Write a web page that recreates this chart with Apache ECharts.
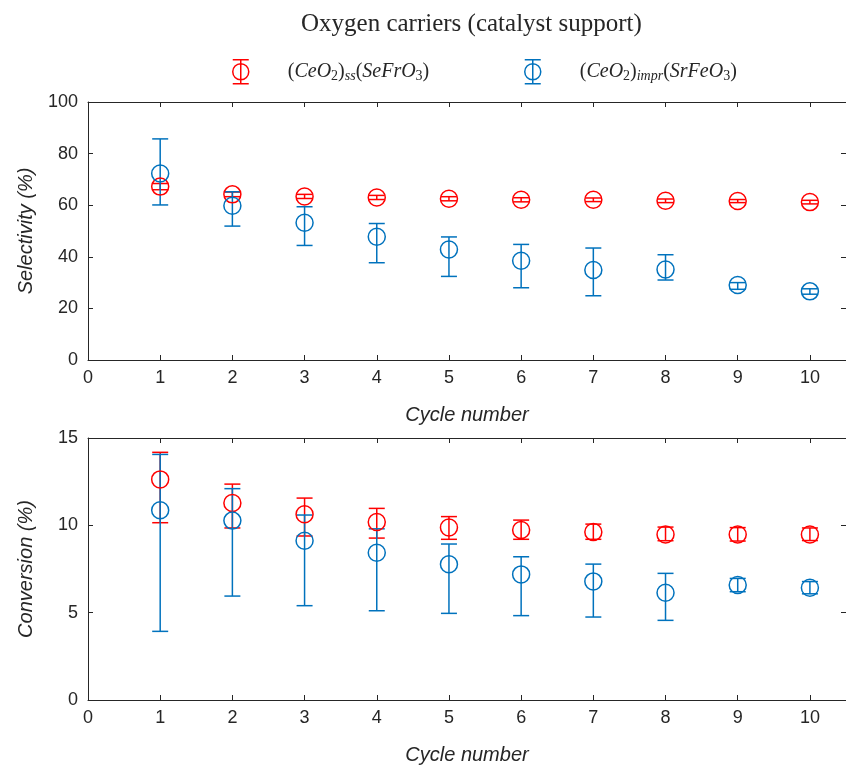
<!DOCTYPE html>
<html>
<head>
<meta charset="utf-8">
<script src="https://cdn.jsdelivr.net/npm/echarts@6/dist/echarts.min.js"></script>
<style>html,body{margin:0;padding:0;background:#fff}#c{width:846px;height:767px}</style>
</head>
<body>
<div id="c"></div>
<script>
// ---- data ----
const cycles = [1, 2, 3, 4, 5, 6, 7, 8, 9, 10];
const xTicks = [0, 1, 2, 3, 4, 5, 6, 7, 8, 9, 10];

const selRed    = [67.2, 64.2, 63.4, 63.0, 62.5, 62.1, 62.1, 61.7, 61.6, 61.2];
const selRedLo  = [66.0, 63.3, 62.6, 62.2, 61.7, 61.3, 61.4, 61.0, 61.0, 60.5];
const selRedHi  = [68.4, 65.1, 64.2, 63.8, 63.3, 62.9, 62.8, 62.4, 62.2, 61.9];
const selBlue   = [72.3, 59.8, 53.2, 47.8, 42.8, 38.5, 34.9, 35.1, 29.1, 26.6];
const selBlueLo = [60.1, 51.9, 44.4, 37.7, 32.4, 28.0, 24.9, 31.0, 27.4, 25.5];
const selBlueHi = [85.7, 65.2, 59.4, 52.9, 47.7, 44.8, 43.4, 40.8, 30.0, 27.6];

const convRed    = [12.63, 11.28, 10.63, 10.19, 9.88, 9.73, 9.62, 9.48, 9.48, 9.48];
const convRedLo  = [10.15, 9.85, 9.39, 9.27, 9.20, 9.20, 9.20, 9.12, 9.10, 9.13];
const convRedHi  = [14.18, 12.36, 11.56, 10.97, 10.50, 10.30, 10.07, 9.90, 9.87, 9.85];
const convBlue   = [10.86, 10.27, 9.12, 8.43, 7.77, 7.19, 6.79, 6.14, 6.58, 6.43];
const convBlueLo = [3.93, 5.95, 5.40, 5.11, 4.96, 4.83, 4.75, 4.56, 6.20, 6.08];
const convBlueHi = [14.06, 12.10, 10.59, 9.80, 8.93, 8.20, 7.78, 7.25, 6.96, 6.78];

const selTicks = [0, 20, 40, 60, 80, 100];
const convTicks = [0, 5, 10, 15];

const RED = '#FF0000';
const BLUE = '#0072BD';
const AX = '#262626';

// ---- helpers ----
function errSeries(name, color, gi, lo, hi) {
  return {
    name: name, type: 'custom', xAxisIndex: gi * 2, yAxisIndex: gi * 2,
    data: cycles.map((c, i) => [c, lo[i], hi[i]]),
    z: 2,
    renderItem: function (params, api) {
      const a = api.coord([api.value(0), api.value(1)]);
      const b = api.coord([api.value(0), api.value(2)]);
      const hw = 8;
      const st = { stroke: color, lineWidth: 1.5 };
      return { type: 'group', children: [
        { type: 'line', shape: { x1: a[0], y1: a[1], x2: b[0], y2: b[1] }, style: st },
        { type: 'line', shape: { x1: a[0] - hw, y1: a[1], x2: a[0] + hw, y2: a[1] }, style: st },
        { type: 'line', shape: { x1: b[0] - hw, y1: b[1], x2: b[0] + hw, y2: b[1] }, style: st }
      ]};
    }
  };
}
function markSeries(name, color, gi, vals) {
  return {
    name: name, type: 'scatter', xAxisIndex: gi * 2, yAxisIndex: gi * 2,
    data: cycles.map((c, i) => [c, vals[i]]),
    symbol: 'circle', symbolSize: 17, z: 3,
    itemStyle: { color: 'rgba(0,0,0,0)', borderColor: color, borderWidth: 1.5, opacity: 1 },
    emphasis: { disabled: true }
  };
}
const labelFont = { fontFamily: 'Liberation Sans', fontSize: 18, color: AX };
const nameFont = { fontFamily: 'Liberation Sans', fontSize: 20, fontStyle: 'italic', color: AX };

function xAxes(gi) {
  const common = {
    type: 'value', gridIndex: gi, min: 0, max: 10.5, interval: 1,
    axisLine: { show: true, onZero: false, lineStyle: { color: AX, width: 1 } },
    axisTick: { show: true, inside: true, length: 5, lineStyle: { color: AX, width: 1 }, customValues: xTicks },
    splitLine: { show: false }
  };
  return [
    Object.assign({}, common, {
      position: 'bottom',
      axisLabel: Object.assign({ margin: 9, customValues: xTicks }, labelFont),
      name: 'Cycle number', nameLocation: 'middle', nameGap: 45, nameTextStyle: nameFont
    }),
    Object.assign({}, common, { position: 'top', axisLabel: { show: false } })
  ];
}
function yAxes(gi, max, interval, ticks, name) {
  const common = {
    type: 'value', gridIndex: gi, min: 0, max: max, interval: interval,
    axisLine: { show: true, onZero: false, lineStyle: { color: AX, width: 1 } },
    axisTick: { show: true, inside: true, length: 5, lineStyle: { color: AX, width: 1 }, customValues: ticks },
    splitLine: { show: false }
  };
  return [
    Object.assign({}, common, {
      position: 'left',
      axisLabel: Object.assign({ margin: 10, customValues: ticks }, labelFont),
      name: name, nameLocation: 'middle', nameGap: 52, nameRotate: 90, nameTextStyle: nameFont
    }),
    Object.assign({}, common, { position: 'right', axisLabel: { show: false } })
  ];
}

const legendRich = {
  g: { width: 34 },
  n: { fontFamily: 'Liberation Serif', fontSize: 20, color: AX },
  i: { fontFamily: 'Liberation Serif', fontSize: 20, fontStyle: 'italic', color: AX },
  sn: { fontFamily: 'Liberation Serif', fontSize: 14, color: AX, padding: [10, 0, 0, 0] },
  si: { fontFamily: 'Liberation Serif', fontSize: 14, fontStyle: 'italic', color: AX, padding: [10, 0, 0, 0] }
};
const legendLabels = {
  ss: '{g|}{n|(}{i|CeO}{sn|2}{n|)}{si|ss}{n|(}{i|SeFrO}{sn|3}{n|)}',
  impr: '{g|}{n|(}{i|CeO}{sn|2}{n|)}{si|impr}{n|(}{i|SrFeO}{sn|3}{n|)}'
};
const ICON = 'path://M8,0 L8,24 M0,0 L16,0 M0,24 L16,24 M16,12 A8,8 0 1 1 0,12 A8,8 0 1 1 16,12 Z';

function legendOf(name, color, left) {
  return {
    left: left, top: 54, itemWidth: 16, itemHeight: 24, selectedMode: false,
    data: [{ name: name, icon: ICON, itemStyle: { color: 'rgba(0,0,0,0)', borderColor: color, borderWidth: 1.5 } }],
    formatter: function (n) { return legendLabels[n]; },
    textStyle: { rich: legendRich }
  };
}

const option = {
  animation: false,
  backgroundColor: '#ffffff',
  title: {
    text: 'Oxygen carriers (catalyst support)', left: 296, top: 7,
    textStyle: { fontFamily: 'Liberation Serif', fontWeight: 'normal', fontSize: 25, color: AX }
  },
  legend: [legendOf('ss', RED, 227), legendOf('impr', BLUE, 519)],
  grid: [
    { left: 88, top: 102, width: 760, height: 258 },
    { left: 88, top: 438, width: 760, height: 262 }
  ],
  xAxis: [].concat(xAxes(0), xAxes(1)),
  yAxis: [].concat(
    yAxes(0, 100, 20, selTicks, 'Selectivity (%)'),
    yAxes(1, 15, 5, convTicks, 'Conversion (%)')
  ),
  series: [
    errSeries('ssErrSel', RED, 0, selRedLo, selRedHi),
    markSeries('ss', RED, 0, selRed),
    errSeries('imprErrSel', BLUE, 0, selBlueLo, selBlueHi),
    markSeries('impr', BLUE, 0, selBlue),
    errSeries('ssErrConv', RED, 1, convRedLo, convRedHi),
    markSeries('ss', RED, 1, convRed),
    errSeries('imprErrConv', BLUE, 1, convBlueLo, convBlueHi),
    markSeries('impr', BLUE, 1, convBlue)
  ]
};
const chart = echarts.init(document.getElementById('c'), null, { renderer: 'canvas' });
chart.setOption(option);
</script>
</body>
</html>
